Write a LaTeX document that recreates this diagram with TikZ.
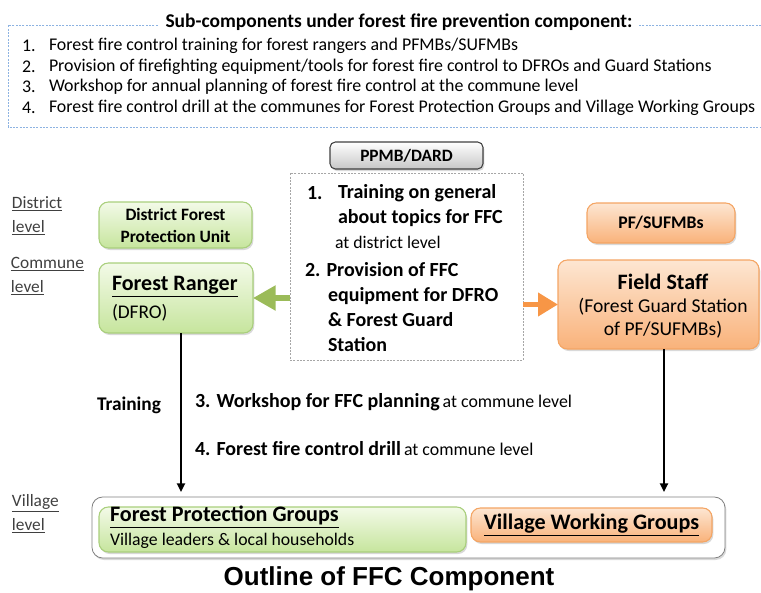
\documentclass[tikz,border=0pt]{standalone}
\usepackage{fontspec}
\setmainfont{Carlito}
\newfontfamily\arialfont{Liberation Sans}
\usetikzlibrary{arrows.meta,shadows}
\definecolor{grnT}{HTML}{F3FAE8}
\definecolor{grnD}{HTML}{C6E59D}
\definecolor{grnB}{HTML}{A9CF7C}
\definecolor{orgT}{HTML}{FDE6D2}
\definecolor{orgD}{HTML}{F9B27A}
\definecolor{orgB}{HTML}{F4A564}
\definecolor{grnA}{HTML}{9BBB59}
\definecolor{orgA}{HTML}{F79646}
\definecolor{frameC}{HTML}{8DB3E2}
\definecolor{lblC}{HTML}{404040}
\definecolor{dashC}{HTML}{A6A6A6}
\begin{document}
\begin{tikzpicture}[x=0.75pt,y=-0.75pt,
  every node/.style={inner sep=0pt, outer sep=0pt},
  shadowed/.style={drop shadow={shadow xshift=1pt, shadow yshift=-1.5pt, opacity=0.3}},
  grnbox/.style={shadowed, draw=grnB, line width=0.8pt, rounded corners=7pt, top color=grnT, bottom color=grnD},
  orgbox/.style={shadowed, draw=orgB, line width=0.8pt, rounded corners=7pt, top color=orgT, bottom color=orgD},
  graybox/.style={shadowed, draw=black!75, line width=0.8pt, rounded corners=4pt, top color=white, bottom color=black!22},
  lbl/.style={anchor=west, text=lblC, align=left, font=\fontsize{13}{18}\selectfont},
  item/.style={anchor=west, font=\fontsize{13.4}{16}\selectfont},
  bt/.style={anchor=west, font=\bfseries\fontsize{15}{18}\selectfont},
  rt/.style={anchor=west, font=\fontsize{13.3}{16}\selectfont},
  ct/.style={font=\fontsize{14.7}{17.5}\selectfont},
  blk/.style={line width=1.6pt, -{Triangle[length=6.5pt,width=6pt]}},
  garrow/.style={line width=4pt, grnA, -{Triangle[length=17pt,width=18pt]}},
  oarrow/.style={line width=4pt, orgA, -{Triangle[length=15pt,width=17pt]}}
]
\useasboundingbox (0,0) rectangle (761,593);

% top frame
\draw[frameC, line width=0.6pt, dash pattern=on 1.5pt off 1pt] (761,25) -| (8,127) -- (761,127);
\node[fill=white, inner xsep=5pt, inner ysep=2pt, font=\bfseries\fontsize{14.6}{17}\selectfont] (hdr) at (399,22) {Sub-components under forest fire prevention component:};
\node[item] (n1) at (22,46) {1.};
\node[item] (i1) at (49,46) {Forest fire control training for forest rangers and PFMBs/SUFMBs};
\node[item] (n2) at (22,66.5) {2.};
\node[item] (i2) at (49,66.5) {Provision of firefighting equipment/tools for forest fire control to DFROs and Guard Stations};
\node[item] (n3) at (22,87) {3.};
\node[item] (i3) at (49,87) {Workshop for annual planning of forest fire control at the commune level};
\node[item] (n4) at (22,107.5) {4.};
\node[item] (i4) at (49,107.5) {Forest fire control drill at the communes for Forest Protection Groups and Village Working Groups};

% level labels
\node[lbl] (lvd) at (12,216) {\underline{District}\\\underline{level}};
\node[lbl] (lvc) at (11,276) {\underline{Commune}\\\underline{level}};
\node[lbl] (lvv) at (12,514) {\underline{Village}\\\underline{level}};

% PPMB and centre box
\node[graybox, minimum width=114.75pt, minimum height=20.25pt, font=\bfseries\fontsize{13}{15}\selectfont] (ppmb) at (406.5,155.5) {PPMB/DARD};
\node[draw=dashC, line width=0.6pt, dash pattern=on 1.5pt off 1pt, fill=white, minimum width=174.75pt, minimum height=140.25pt] (cbox) at (406.5,266.5) {};
\node[bt] (t1n) at (307,193) {1.};
\node[bt] (t1a) at (338,193) {Training on general};
\node[bt] (t1b) at (338,218) {about topics for FFC};
\node[rt] (t1c) at (335,242) {at district level};
\node[bt] (t2a) at (305,270) {2. Provision of FFC};
\node[bt] (t2b) at (328,296) {equipment for DFRO};
\node[bt] (t2c) at (328,320) {\& Forest Guard};
\node[bt] (t2d) at (328,345) {Station};

% left column
\node[grnbox, minimum width=114.75pt, minimum height=34.5pt, align=center, font=\bfseries\fontsize{13}{16.5}\selectfont] (dfpu) at (175.5,225) {District Forest\\Protection Unit};
\node[grnbox, minimum width=115.5pt, minimum height=52.5pt] (ranger) at (176,298) {};
\node[anchor=west, font=\bfseries\fontsize{16.5}{19}\selectfont] (rgt) at (112,287) {\underline{Forest Ranger}};
\node[anchor=west, font=\fontsize{14.5}{17}\selectfont] (rgs) at (112,313) {(DFRO)};

% right column
\node[orgbox, minimum width=111pt, minimum height=30pt, font=\bfseries\fontsize{13.3}{15}\selectfont] (pfsu) at (661,223) {PF/SUFMBs};
\node[orgbox, minimum width=150.75pt, minimum height=66.75pt] (field) at (658.5,304.5) {};
\node[font=\bfseries\fontsize{16.5}{19}\selectfont] (fst) at (663,282) {Field Staff};
\node[ct] (fs2) at (663,307) {(Forest Guard Station};
\node[ct] (fs3) at (663,330) {of PF/SUFMBs)};

% village level
\node[shadowed, draw=black!50, line width=0.6pt, fill=white, rounded corners=8pt, minimum width=474.75pt, minimum height=45.75pt] (village) at (408.5,527.5) {};
\node[grnbox, minimum width=275.25pt, minimum height=33.75pt] (fpg) at (282.5,529.5) {};
\node[anchor=west, font=\bfseries\fontsize{16.6}{19}\selectfont] (fpgt) at (110,517) {\underline{Forest Protection Groups}};
\node[anchor=west, font=\fontsize{13.3}{16}\selectfont] (fpgs) at (110,541) {Village leaders \& local households};
\node[orgbox, minimum width=180.75pt, minimum height=25.5pt, font=\bfseries\fontsize{16.6}{19}\selectfont] (vwg) at (591.5,525) {\underline{Village Working Groups}};

% connectors
\draw[garrow] (cbox.west |- ranger.east) -- (ranger.east);
\draw[oarrow] (cbox.east |- field.west) -- (field.west);
\coordinate (la) at (181,0);
\coordinate (ra) at (664,0);
\draw[blk] (ranger.south -| la) -- ([yshift=3.75pt]village.north -| la);
\draw[blk] (field.south -| ra) -- ([yshift=3.75pt]village.north -| ra);

% middle texts
\node[anchor=west, font=\bfseries\fontsize{14.5}{17}\selectfont] (trn) at (97,405) {Training};
\node[anchor=west] (w3) at (195,402) {{\bfseries\fontsize{15}{18}\selectfont 3. Workshop for FFC planning} {\fontsize{13.4}{16}\selectfont at commune level}};
\node[anchor=west] (w4) at (195,449) {{\bfseries\fontsize{15}{18}\selectfont 4. Forest fire control drill} {\fontsize{13.4}{16}\selectfont at commune level}};

% title
\node[font=\arialfont\bfseries\fontsize{19.5}{23}\selectfont] (ttl) at (389,579) {Outline of FFC Component};
\end{tikzpicture}
\end{document}
